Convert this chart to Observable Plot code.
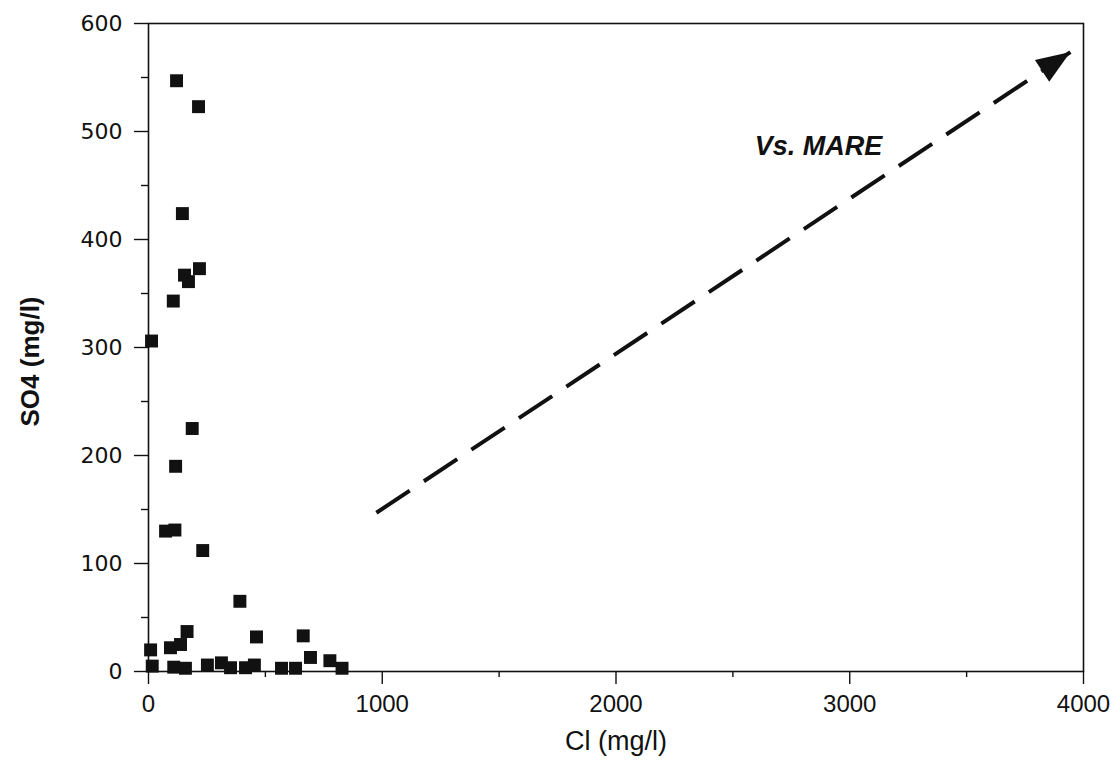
<!DOCTYPE html>
<html>
<head>
<meta charset="utf-8">
<script src="https://cdn.jsdelivr.net/npm/d3@7"></script>
<script src="https://cdn.jsdelivr.net/npm/@observablehq/plot@0.6"></script>
<style>
  html, body { margin: 0; padding: 0; background: #fff; }
</style>
</head>
<body>
<div id="chart"></div>
<script>
// Cl (mg/l) and SO4 (mg/l) for each sample
const cl  = [120, 214, 145, 154, 171, 218, 106, 13, 187, 116, 73, 113, 232, 391,
             9, 16, 94, 137, 165, 108, 158, 252, 312, 351, 415, 462, 453, 569, 629, 662, 693, 776, 828];
const so4 = [547, 523, 424, 367, 361, 373, 343, 306, 225, 190, 130, 131, 112, 65,
             20, 5, 22, 25, 37, 4, 3, 6, 8, 3.5, 3.5, 32, 6, 3, 3, 33, 13, 10, 3];

const xTicks = [0, 1000, 2000, 3000, 4000];
const xMinor = [500, 1500, 2500, 3500];
const yTicks = [0, 100, 200, 300, 400, 500, 600];
const yMinor = [50, 150, 250, 350, 450, 550];

// Arrow annotation "Vs. MARE" (start and tip in data units)
const arrowStart = [975, 147];
const arrowTip = [3944, 573.5];
const annotation = {text: "Vs. MARE", cl: 2866, so4: 486};

const samples = cl.map((c, i) => ({cl: c, so4: so4[i]}));

const headSymbol = {
  draw(ctx) {
    ctx.moveTo(0, 0);
    ctx.lineTo(-13, 34);
    ctx.lineTo(13, 34);
    ctx.closePath();
  }
};

const chart = Plot.plot({
  width: 1116,
  height: 775,
  marginLeft: 148,
  marginRight: 33,
  marginTop: 23,
  marginBottom: 104,
  style: {background: "#fff", color: "#111"},
  x: {domain: [0, 4000]},
  y: {domain: [0, 600]},
  marks: [
    Plot.frame({stroke: "#111", strokeWidth: 1.6}),
    Plot.axisX({ticks: xTicks, tickSize: 13, tickPadding: 10, tickFormat: d => String(d), label: null, strokeWidth: 1.4,
      fontSize: 24, fontFamily: "Liberation Sans, Arial, sans-serif"}),
    Plot.axisX({ticks: xMinor, tickSize: 6, tickFormat: () => "", label: null, strokeWidth: 1.4}),
    Plot.axisY({ticks: yTicks, tickSize: 14, tickPadding: 12, tickFormat: d => String(d), label: null, strokeWidth: 1.4,
      fontSize: 22, fontFamily: "DejaVu Sans, sans-serif"}),
    Plot.axisY({ticks: yMinor, tickSize: 7, tickFormat: () => "", label: null, strokeWidth: 1.4}),
    Plot.dot(samples, {x: "cl", y: "so4", symbol: "square", r: 7.3, fill: "#111", stroke: "none"}),
    Plot.link([{x1: arrowStart[0], y1: arrowStart[1], x2: arrowTip[0], y2: arrowTip[1]}],
      {x1: "x1", y1: "y1", x2: "x2", y2: "y2", stroke: "#111", strokeWidth: 4, strokeDasharray: "40,17"}),
    Plot.dot([{x: arrowTip[0], y: arrowTip[1]}], {x: "x", y: "y", symbol: headSymbol, r: 10, fill: "#111", stroke: "none", rotate: 56.5}),
    Plot.text([annotation], {x: "cl", y: "so4", text: "text", fontSize: 27, fontWeight: "bold", fontStyle: "italic",
      fontFamily: "Liberation Sans, Arial, sans-serif", fill: "#111"}),
    Plot.text(["Cl (mg/l)"], {frameAnchor: "bottom", dy: 78, fontSize: 27,
      fontFamily: "Liberation Sans, Arial, sans-serif", fill: "#111"}),
    Plot.text(["SO4 (mg/l)"], {frameAnchor: "left", textAnchor: "middle", dx: -118, dy: 14, rotate: -90, fontSize: 26, fontWeight: "bold",
      fontFamily: "Liberation Sans, Arial, sans-serif", fill: "#111"})
  ]
});
document.getElementById("chart").append(chart);
</script>
</body>
</html>
